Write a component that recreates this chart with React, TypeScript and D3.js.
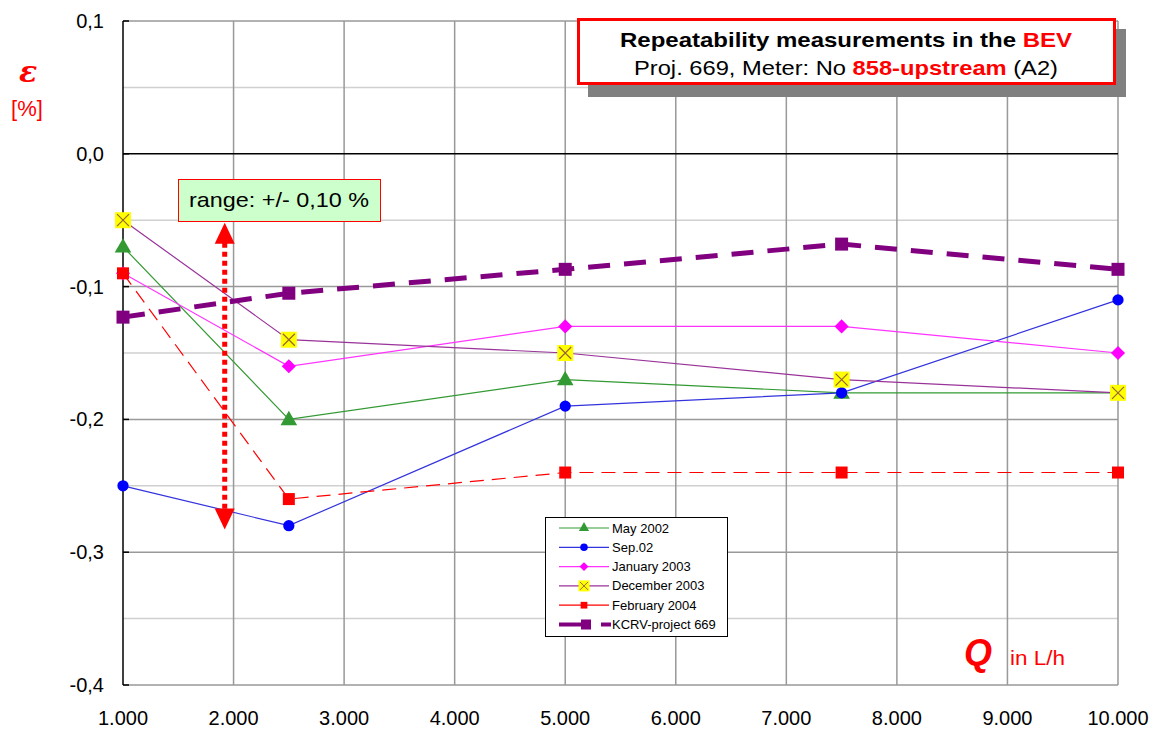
import React from 'react';
import * as d3 from 'd3';

const flows = [1000, 2500, 5000, 7500, 10000];
const may2002 = [-0.07, -0.2, -0.17, -0.18, -0.18];
const sep02 = [-0.25, -0.28, -0.19, -0.18, -0.11];
const jan2003 = [-0.09, -0.16, -0.13, -0.13, -0.15];
const dec2003 = [-0.05, -0.14, -0.15, -0.17, -0.18];
const feb2004 = [-0.09, -0.26, -0.24, -0.24, -0.24];
const kcrv = [-0.123, -0.105, -0.087, -0.068, -0.087];

const xTicks = [1000, 2000, 3000, 4000, 5000, 6000, 7000, 8000, 9000, 10000];
const yTicks = [0.1, 0, -0.1, -0.2, -0.3, -0.4];
const yMinor = [0.05, -0.05, -0.15, -0.25, -0.35];
const rangeTop = -0.052;
const rangeBottom = -0.283;
const rangeAt = 1920;

const series = [
  { name: 'May 2002', values: may2002, color: '#339933', line: '#339933', marker: 'triangle', width: 1.2, dash: null },
  { name: 'Sep.02', values: sep02, color: '#0000ff', line: '#3333dd', marker: 'circle', width: 1.2, dash: null },
  { name: 'January 2003', values: jan2003, color: '#ff00ff', line: '#ff33ff', marker: 'diamond', width: 1.2, dash: null },
  { name: 'December 2003', values: dec2003, color: '#800080', line: '#993399', marker: 'xbox', width: 1.2, dash: null },
  { name: 'February 2004', values: feb2004, color: '#ff0000', line: '#ff0000', marker: 'square', width: 1.2, dash: '14,8' },
  { name: 'KCRV-project 669', values: kcrv, color: '#800080', line: '#800080', marker: 'bigsquare', width: 5, dash: '22,14' },
];

const fmtX = (v: number) => d3.format(',')(v).replace(',', '.');
const fmtY = (v: number) => v.toFixed(1).replace('.', ',');

function Marker({ type, color, x, y }: { type: string; color: string; x: number; y: number }) {
  if (type === 'xbox') {
    return (
      <g transform={`translate(${x},${y})`}>
        <rect x={-8} y={-8} width={16} height={16} fill="#ffff00" />
        <path d="M-6,-6L6,6M6,-6L-6,6" stroke="#996633" strokeWidth={1.2} />
      </g>
    );
  }
  if (type === 'diamond') {
    return <path d={d3.symbol(d3.symbolSquare, 100)() || ''} transform={`translate(${x},${y}) rotate(45)`} fill={color} />;
  }
  const sym =
    type === 'triangle' ? d3.symbolTriangle :
    type === 'circle' ? d3.symbolCircle : d3.symbolSquare;
  const size = type === 'triangle' ? 120 : type === 'circle' ? 100 : type === 'bigsquare' ? 169 : 144;
  const dy = type === 'triangle' ? 1 : 0;
  return <path d={d3.symbol(sym, size)() || ''} transform={`translate(${x},${y + dy})`} fill={color} />;
}

export default function App() {
  const width = 1161;
  const height = 733;
  const x = d3.scaleLinear().domain([1000, 10000]).range([123, 1118]);
  const y = d3.scaleLinear().domain([0.1, -0.4]).range([21, 685]);
  const line = d3.line<number>().x((_, i) => x(flows[i])).y(d => y(d));
  const font = 'Arial, "Liberation Sans", sans-serif';

  const legX = 545;
  const legY = 517;
  const legRow = 19.3;

  return (
    <svg width={width} height={height} style={{ position: 'absolute', left: 0, top: 0, background: '#fff' }} fontFamily={font}>
      {/* minor grid */}
      {yMinor.map(t => (
        <line key={'m' + t} x1={x(1000)} x2={x(10000)} y1={y(t)} y2={y(t)} stroke="#d0d0d0" strokeWidth={1.5} />
      ))}
      {/* major grid */}
      {yTicks.filter(t => t !== 0).map(t => (
        <line key={'g' + t} x1={x(1000)} x2={x(10000)} y1={y(t)} y2={y(t)} stroke="#999" strokeWidth={1.5} />
      ))}
      {xTicks.slice(1).map(t => (
        <line key={'v' + t} x1={x(t)} x2={x(t)} y1={y(0.1)} y2={y(-0.4)} stroke="#999" strokeWidth={1.5} />
      ))}
      <line x1={x(1000)} x2={x(10000)} y1={y(0)} y2={y(0)} stroke="#000" strokeWidth={1.5} />
      <line x1={x(1000)} x2={x(1000)} y1={y(0.1)} y2={y(-0.4)} stroke="#000" strokeWidth={1.5} />
      {yTicks.map(t => (
        <line key={'t' + t} x1={x(1000)} x2={x(1000) + 6} y1={y(t)} y2={y(t)} stroke="#000" strokeWidth={1.5} />
      ))}
      {yTicks.map(t => (
        <text key={'yl' + t} x={104} y={y(t) + 7} textAnchor="end" fontSize={20}>{fmtY(t)}</text>
      ))}
      {xTicks.map(t => (
        <text key={'xl' + t} x={x(t)} y={725} textAnchor="middle" fontSize={20}>{fmtX(t)}</text>
      ))}

      {/* series lines */}
      {series.map(s => (
        <path key={'l' + s.name} d={line(s.values) || ''} fill="none" stroke={s.line} strokeWidth={s.width}
          strokeDasharray={s.dash || undefined} />
      ))}
      {series.map(s => s.values.map((v, i) => (
        <Marker key={s.name + i} type={s.marker} color={s.color} x={x(flows[i])} y={y(v)} />
      )))}

      {/* range arrow */}
      <line x1={x(rangeAt)} x2={x(rangeAt)} y1={y(rangeTop) + 20} y2={y(rangeBottom) - 20} stroke="#ff0000" strokeWidth={5} strokeDasharray="5,4" />
      <path d={`M${x(rangeAt)},${y(rangeTop)}l-10,21h20z`} fill="#ff0000" />
      <path d={`M${x(rangeAt)},${y(rangeBottom)}l-10,-21h20z`} fill="#ff0000" />
      <rect x={178.5} y={179.5} width={202} height={42} fill="#ccffcc" stroke="#ff0000" strokeWidth={1} />
      <text x={279} y={207} textAnchor="middle" fontSize={21} textLength={180} lengthAdjust="spacingAndGlyphs">range: +/- 0,10 %</text>

      {/* title box */}
      <rect x={588} y={29} width={538} height={68} fill="#808080" />
      <rect x={578.5} y={19.5} width={536} height={64} fill="#fff" stroke="#ff0000" strokeWidth={3} />
      <text x={846} y={47} textAnchor="middle" fontSize={21} fontWeight="bold" textLength={452} lengthAdjust="spacingAndGlyphs">
        Repeatability measurements in the <tspan fill="#ff0000">BEV</tspan>
      </text>
      <text x={846} y={75} textAnchor="middle" fontSize={21} textLength={424} lengthAdjust="spacingAndGlyphs">
        Proj. 669, Meter: No <tspan fill="#ff0000" fontWeight="bold">858-upstream</tspan> (A2)
      </text>

      {/* axis titles */}
      <text x={28} y={82} textAnchor="middle" fontSize={30} fontStyle="italic" fontWeight="bold" fill="#ff0000" fontFamily="'DejaVu Serif', serif">ε</text>
      <text x={27} y={116} textAnchor="middle" fontSize={22} fill="#ff0000">[%]</text>
      <text x={964} y={665} fontSize={36} fontStyle="italic" fontWeight="bold" fill="#ff0000">Q</text>
      <text x={1010} y={665} fontSize={20} fill="#ff0000" textLength={55} lengthAdjust="spacingAndGlyphs">in L/h</text>

      {/* legend */}
      <rect x={legX + 0.5} y={legY + 0.5} width={182} height={119} fill="#fff" stroke="#000" strokeWidth={1} />
      {series.map((s, i) => {
        const cy = legY + 11 + i * legRow;
        const isK = s.marker === 'bigsquare';
        return (
          <g key={'lg' + s.name}>
            {isK ? (
              <>
                <line x1={legX + 14} x2={legX + 40} y1={cy} y2={cy} stroke={s.line} strokeWidth={4} />
                <line x1={legX + 56} x2={legX + 66} y1={cy} y2={cy} stroke={s.line} strokeWidth={4} />
                <rect x={legX + 36} y={cy - 5} width={10} height={10} fill={s.color} />
              </>
            ) : (
              <>
                <line x1={legX + 14} x2={legX + 64} y1={cy} y2={cy} stroke={s.line} strokeWidth={1.2} />
                {s.marker === 'xbox' ? (
                  <g transform={`translate(${legX + 39},${cy})`}>
                    <rect x={-5.5} y={-5.5} width={11} height={11} fill="#ffff00" />
                    <path d="M-4,-4L4,4M4,-4L-4,4" stroke="#996633" strokeWidth={1} />
                  </g>
                ) : s.marker === 'diamond' ? (
                  <path d={d3.symbol(d3.symbolSquare, 40)() || ''}
                    transform={`translate(${legX + 39},${cy}) rotate(45)`} fill={s.color} />
                ) : (
                  <path
                    d={d3.symbol(
                      s.marker === 'triangle' ? d3.symbolTriangle :
                      s.marker === 'circle' ? d3.symbolCircle : d3.symbolSquare, 45)() || ''}
                    transform={`translate(${legX + 39},${cy})`} fill={s.color} />
                )}
              </>
            )}
            <text x={legX + 67} y={cy + 4.5} fontSize={13}>{s.name}</text>
          </g>
        );
      })}
    </svg>
  );
}
